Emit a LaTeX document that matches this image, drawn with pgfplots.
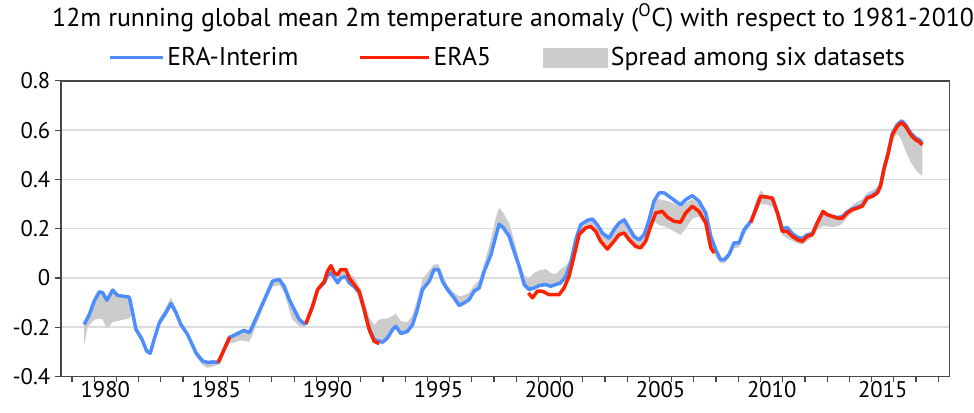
\documentclass[border=0pt]{standalone}
\usepackage{pgfplots}
\pgfplotsset{compat=1.18}
\usepackage{pgfplotstable}
\usepgfplotslibrary{fillbetween}
\usepackage{fontspec}
\setmainfont{PT Sans}

\definecolor{eiblue}{RGB}{77,141,255}
\definecolor{efivered}{RGB}{255,34,0}
\definecolor{spreadgrey}{RGB}{204,204,204}
\definecolor{gridgrey}{RGB}{221,221,221}
\definecolor{framegrey}{RGB}{70,70,70}

% legend swatches
\pgfplotsset{
  eikey/.style={legend image code/.code={\draw[##1] (0pt,0pt) -- (40pt,0pt);}},
  e5key/.style={legend image code/.code={\draw[##1] (0pt,0pt) -- (52pt,0pt);}},
  spreadkey/.style={legend image code/.code={\fill[##1] (0pt,-7.5pt) rectangle (49pt,7.5pt);}},
}

% ERA-Interim, 12-month running mean
\pgfplotstableread{
x y
1979.55 -0.189
1979.78 -0.148
1980.00 -0.094
1980.23 -0.056
1980.38 -0.060
1980.57 -0.091
1980.83 -0.049
1981.05 -0.071
1981.28 -0.074
1981.58 -0.078
1981.70 -0.128
1981.88 -0.209
1982.15 -0.249
1982.36 -0.297
1982.52 -0.306
1982.70 -0.249
1982.93 -0.182
1983.23 -0.141
1983.45 -0.104
1983.68 -0.141
1983.90 -0.189
1984.20 -0.229
1984.58 -0.304
1984.88 -0.337
1985.10 -0.344
1985.36 -0.341
1985.58 -0.344
1985.80 -0.300
1986.10 -0.240
1986.23 -0.236
1986.53 -0.222
1986.75 -0.213
1986.98 -0.222
1987.13 -0.195
1987.43 -0.135
1987.73 -0.074
1988.03 -0.013
1988.33 -0.006
1988.55 -0.033
1988.78 -0.087
1988.93 -0.115
1989.23 -0.169
1989.46 -0.186
1989.53 -0.186
1989.83 -0.115
1990.06 -0.047
1990.36 -0.020
1990.50 0.010
1990.66 0.020
1990.81 0.000
1990.96 -0.020
1991.10 0.000
1991.33 0.005
1991.48 -0.020
1991.70 -0.035
1991.93 -0.060
1992.15 -0.128
1992.38 -0.205
1992.60 -0.250
1992.83 -0.257
1992.98 -0.261
1993.20 -0.244
1993.43 -0.210
1993.58 -0.196
1993.80 -0.226
1994.10 -0.217
1994.33 -0.190
1994.55 -0.128
1994.78 -0.047
1995.08 -0.014
1995.30 0.034
1995.50 0.034
1995.68 -0.014
1995.90 -0.047
1996.20 -0.081
1996.43 -0.112
1996.66 -0.101
1996.88 -0.088
1997.10 -0.054
1997.33 -0.041
1997.56 0.027
1997.86 0.094
1998.08 0.169
1998.23 0.218
1998.41 0.205
1998.68 0.169
1998.90 0.108
1999.13 0.047
1999.36 -0.027
1999.58 -0.047
1999.80 -0.041
2000.03 -0.031
2000.33 -0.027
2000.55 -0.034
2000.78 -0.027
2001.00 -0.020
2001.23 0.007
2001.45 0.061
2001.68 0.155
2001.90 0.216
2002.20 0.234
2002.43 0.239
2002.65 0.216
2002.88 0.182
2003.18 0.162
2003.40 0.196
2003.63 0.223
2003.86 0.236
2004.08 0.203
2004.30 0.169
2004.53 0.155
2004.76 0.176
2004.98 0.236
2005.20 0.311
2005.43 0.345
2005.66 0.345
2005.88 0.331
2006.18 0.311
2006.40 0.297
2006.63 0.318
2006.93 0.334
2007.23 0.311
2007.53 0.264
2007.76 0.169
2007.98 0.115
2008.20 0.074
2008.36 0.074
2008.58 0.095
2008.80 0.142
2009.03 0.142
2009.26 0.196
2009.56 0.230
2009.78 0.277
2010.00 0.331
2010.30 0.328
2010.53 0.324
2010.76 0.264
2010.98 0.200
2011.20 0.205
2011.43 0.180
2011.66 0.165
2011.88 0.160
2012.10 0.175
2012.33 0.180
2012.55 0.223
2012.81 0.268
2013.00 0.257
2013.23 0.250
2013.46 0.245
2013.68 0.250
2013.90 0.268
2014.13 0.280
2014.36 0.288
2014.58 0.295
2014.80 0.326
2015.03 0.335
2015.26 0.350
2015.40 0.375
2015.55 0.442
2015.75 0.512
2015.93 0.586
2016.15 0.622
2016.35 0.638
2016.53 0.622
2016.76 0.588
2016.98 0.568
2017.13 0.562
2017.28 0.548
}\eraint

% ERA5, shown where it departs from ERA-Interim (gaps as nan)
\pgfplotstableread{
x y
1985.58 -0.344
1985.80 -0.300
1986.10 -0.240
1988.00 nan
1989.53 -0.186
1989.83 -0.115
1990.06 -0.047
1990.36 -0.014
1990.50 0.027
1990.66 0.050
1990.81 0.020
1990.96 0.013
1991.10 0.034
1991.33 0.034
1991.48 0.000
1991.70 -0.027
1991.93 -0.054
1992.15 -0.128
1992.38 -0.210
1992.60 -0.257
1992.83 -0.267
1996.00 nan
1999.55 -0.061
1999.73 -0.081
1999.95 -0.054
2000.18 -0.054
2000.48 -0.068
2000.70 -0.068
2000.93 -0.068
2001.15 -0.041
2001.38 0.007
2001.60 0.088
2001.83 0.176
2002.13 0.203
2002.35 0.209
2002.58 0.189
2002.80 0.149
2003.10 0.117
2003.40 0.149
2003.63 0.176
2003.86 0.182
2004.08 0.155
2004.38 0.128
2004.60 0.122
2004.83 0.149
2005.05 0.209
2005.28 0.264
2005.58 0.270
2005.80 0.247
2006.10 0.230
2006.40 0.226
2006.63 0.264
2006.93 0.291
2007.23 0.270
2007.53 0.223
2007.76 0.122
2007.91 0.101
2008.80 nan
2009.56 0.225
2009.78 0.277
2010.00 0.331
2010.30 0.328
2010.53 0.324
2010.76 0.264
2010.98 0.189
2011.20 0.189
2011.43 0.169
2011.66 0.155
2011.88 0.149
2012.10 0.169
2012.33 0.176
2012.55 0.223
2012.81 0.270
2013.00 0.257
2013.23 0.250
2013.46 0.243
2013.68 0.243
2013.90 0.264
2014.13 0.277
2014.36 0.284
2014.58 0.291
2014.80 0.324
2015.03 0.331
2015.26 0.345
2015.40 0.372
2015.55 0.439
2015.75 0.507
2015.93 0.581
2016.15 0.615
2016.35 0.631
2016.53 0.615
2016.76 0.581
2016.98 0.561
2017.13 0.554
2017.28 0.540
}\erafive

% Spread among six datasets: lower and upper envelope
\pgfplotstableread{
x lo hi
1979.55 -0.270 -0.185
1979.70 -0.200 -0.160
1980.00 -0.170 -0.090
1980.23 -0.165 -0.052
1980.38 -0.170 -0.055
1980.57 -0.205 -0.085
1980.83 -0.180 -0.045
1981.05 -0.175 -0.065
1981.28 -0.170 -0.070
1981.58 -0.165 -0.072
1981.70 -0.150 -0.125
1981.88 -0.215 -0.200
1982.15 -0.260 -0.235
1982.36 -0.300 -0.285
1982.52 -0.310 -0.295
1982.70 -0.260 -0.240
1982.93 -0.195 -0.165
1983.23 -0.150 -0.120
1983.45 -0.110 -0.080
1983.68 -0.145 -0.120
1983.90 -0.195 -0.175
1984.20 -0.240 -0.220
1984.58 -0.320 -0.295
1984.88 -0.355 -0.330
1985.10 -0.365 -0.335
1985.36 -0.360 -0.335
1985.58 -0.350 -0.330
1985.80 -0.310 -0.290
1986.10 -0.265 -0.235
1986.23 -0.265 -0.230
1986.53 -0.255 -0.218
1986.75 -0.255 -0.205
1986.98 -0.260 -0.215
1987.13 -0.230 -0.190
1987.43 -0.160 -0.130
1987.73 -0.095 -0.070
1988.03 -0.035 -0.010
1988.33 -0.030 -0.003
1988.55 -0.060 -0.030
1988.78 -0.130 -0.085
1988.93 -0.170 -0.110
1989.23 -0.195 -0.165
1989.46 -0.200 -0.180
1989.83 -0.125 -0.110
1990.06 -0.050 -0.040
1990.36 -0.015 -0.005
1990.50 0.000 0.020
1990.66 0.010 0.035
1990.81 -0.010 0.020
1990.96 -0.020 0.015
1991.10 -0.005 0.030
1991.33 -0.005 0.030
1991.48 -0.020 0.015
1991.70 -0.035 0.005
1991.93 -0.065 -0.035
1992.15 -0.130 -0.090
1992.38 -0.205 -0.160
1992.60 -0.250 -0.190
1992.83 -0.257 -0.170
1992.98 -0.260 -0.165
1993.20 -0.245 -0.165
1993.43 -0.212 -0.155
1993.58 -0.198 -0.145
1993.80 -0.228 -0.175
1994.10 -0.218 -0.180
1994.33 -0.192 -0.150
1994.55 -0.130 -0.085
1994.78 -0.050 -0.005
1995.08 -0.016 0.030
1995.30 0.030 0.055
1995.50 0.030 0.055
1995.68 -0.016 0.015
1995.90 -0.050 -0.030
1996.20 -0.083 -0.060
1996.43 -0.114 -0.075
1996.66 -0.103 -0.070
1996.88 -0.090 -0.060
1997.10 -0.056 -0.030
1997.33 -0.043 -0.010
1997.56 0.025 0.060
1997.86 0.092 0.155
1998.08 0.167 0.245
1998.23 0.215 0.285
1998.41 0.203 0.265
1998.68 0.167 0.223
1998.90 0.106 0.155
1999.13 0.045 0.074
1999.36 -0.029 0.010
1999.58 -0.049 0.000
1999.80 -0.043 0.020
2000.03 -0.033 0.030
2000.33 -0.029 0.036
2000.55 -0.036 0.020
2000.78 -0.029 0.015
2001.00 -0.022 0.035
2001.23 -0.010 0.050
2001.45 0.030 0.075
2001.68 0.120 0.160
2001.90 0.190 0.220
2002.20 0.205 0.236
2002.43 0.205 0.240
2002.65 0.190 0.218
2002.88 0.150 0.184
2003.18 0.125 0.164
2003.40 0.150 0.198
2003.63 0.170 0.225
2003.86 0.180 0.238
2004.08 0.155 0.205
2004.30 0.125 0.171
2004.53 0.115 0.157
2004.76 0.140 0.178
2004.98 0.200 0.238
2005.20 0.230 0.313
2005.43 0.215 0.320
2005.66 0.210 0.315
2005.88 0.200 0.310
2006.18 0.185 0.300
2006.40 0.175 0.290
2006.63 0.200 0.305
2006.93 0.240 0.320
2007.23 0.250 0.300
2007.53 0.220 0.262
2007.76 0.125 0.168
2007.98 0.085 0.113
2008.20 0.060 0.076
2008.36 0.060 0.076
2008.58 0.080 0.097
2008.80 0.120 0.144
2009.03 0.125 0.144
2009.26 0.175 0.198
2009.56 0.215 0.240
2009.78 0.265 0.310
2010.00 0.300 0.355
2010.30 0.297 0.330
2010.53 0.290 0.326
2010.76 0.245 0.266
2010.98 0.175 0.205
2011.20 0.160 0.207
2011.43 0.150 0.182
2011.66 0.140 0.167
2011.88 0.135 0.162
2012.10 0.150 0.177
2012.33 0.165 0.182
2012.55 0.195 0.225
2012.81 0.210 0.272
2013.00 0.210 0.259
2013.23 0.205 0.252
2013.46 0.210 0.247
2013.68 0.220 0.255
2013.90 0.245 0.275
2014.13 0.265 0.295
2014.36 0.275 0.310
2014.58 0.285 0.320
2014.80 0.315 0.345
2015.03 0.325 0.355
2015.26 0.340 0.370
2015.40 0.365 0.400
2015.55 0.430 0.455
2015.75 0.495 0.515
2015.93 0.560 0.588
2016.15 0.585 0.624
2016.35 0.560 0.640
2016.53 0.515 0.624
2016.76 0.470 0.590
2016.98 0.440 0.570
2017.13 0.425 0.564
2017.28 0.415 0.550
}\spread

\begin{document}
\begin{tikzpicture}
\begin{axis}[
  scale only axis,
  width=667.3pt, height=222pt,
  xmin=1978.5, xmax=2018.5,
  ymin=-0.4, ymax=0.8,
  xtick={1979,...,2018},
  xticklabels={},
  extra x ticks={1980.5,1985.5,1990.5,1995.5,2000.5,2005.5,2010.5,2015.5},
  extra x tick labels={1980,1985,1990,1995,2000,2005,2010,2015},
  extra x tick style={major tick length=0pt, grid=none},
  ytick={-0.4,-0.2,0,0.2,0.4,0.6,0.8},
  yticklabels={-0.4,-0.2,0,0.2,0.4,0.6,0.8},
  xtick pos=bottom, ytick pos=left,
  tick align=outside,
  major tick length=4.5pt,
  tick style={framegrey, line width=0.9pt},
  ymajorgrids,
  major grid style={gridgrey, line width=1.2pt},
  axis line style={framegrey, line width=1.2pt},
  tick label style={font=\fontsize{17}{19}\selectfont, text=black},
  unbounded coords=jump,
  legend columns=3,
  legend style={draw=none, fill=none, at={(0.5,1)}, anchor=center,
    yshift=17.5pt, xshift=2pt, font=\fontsize{19.3}{22}\selectfont,
    /tikz/column 2/.style={column sep=43pt},
    /tikz/column 4/.style={column sep=37pt},
    nodes={inner sep=2pt}},
]
\addlegendimage{eiblue, line width=2.6pt, eikey}
\addlegendentry{ERA-Interim}
\addlegendimage{efivered, line width=2.6pt, e5key}
\addlegendentry{ERA5}
\addlegendimage{fill=spreadgrey, draw=none, spreadkey}
\addlegendentry{Spread among six datasets}

\addplot[name path=lower, draw=none, forget plot] table[x=x, y=lo] {\spread};
\addplot[name path=upper, draw=none, forget plot] table[x=x, y=hi] {\spread};
\addplot[spreadgrey, forget plot] fill between[of=upper and lower];

\addplot[eiblue, line width=2.6pt, line join=round, forget plot] table[x=x, y=y] {\eraint};
\addplot[efivered, line width=2.6pt, line join=round, forget plot] table[x=x, y=y] {\erafive};
\end{axis}
\node[anchor=base, inner sep=0pt, font=\fontsize{19.4}{22}\selectfont]
  at ([xshift=6pt, yshift=40.5pt]current axis.north)
  {12m running global mean 2m temperature anomaly (\textsuperscript{O}C) with respect to 1981-2010};
% page frame around the axis box (axis box: 667.3pt x 222pt, lower left at origin)
\path (-45.75pt,-27pt) rectangle (684.8pt,282.75pt);
\end{tikzpicture}
\end{document}
